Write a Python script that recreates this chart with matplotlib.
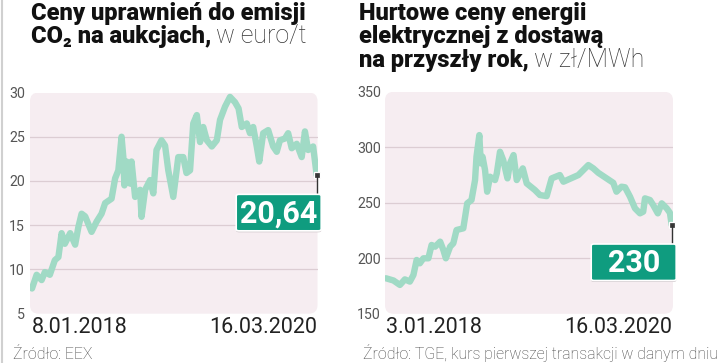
import matplotlib.pyplot as plt
from matplotlib.patches import FancyBboxPatch
from matplotlib.lines import Line2D

W, H = 721, 363

# CO2 allowance auction prices, EUR/t (days since 8.01.2018)
co2_day = [0, 13, 27, 36, 50, 64, 74, 83, 92, 107, 121, 130, 139, 149, 167, 181,
           195, 205, 223, 233, 242, 251, 256, 259, 265, 275, 279, 289, 303, 307,
           317, 331, 340, 349, 363, 373, 382, 396, 410, 424, 433, 443, 452, 462,
           471, 480, 490, 504, 518, 527, 541, 555, 569, 579, 588, 602, 611, 620,
           630, 637, 648, 662, 676, 686, 695, 709, 718, 728, 742, 756, 765, 774,
           788, 798]
co2_val = [7.85, 9.4, 8.8, 9.7, 9.4, 11.05, 11.4, 14.1, 12.9, 14.1, 12.8, 14.8,
           16.3, 16.0, 14.25, 15.4, 16.3, 17.5, 18.0, 20.3, 21.2, 25.0, 22.7, 19.5,
           22.2, 19.7, 22.2, 18.2, 19.0, 15.95, 19.0, 20.1, 18.6, 23.5, 24.6, 24.0,
           21.2, 18.2, 22.7, 22.7, 20.9, 21.2, 26.5, 27.45, 24.4, 26.1, 24.6, 23.9,
           24.6, 26.9, 28.4, 29.5, 28.9, 28.2, 26.1, 26.5, 25.4, 26.1, 23.9, 22.2,
           25.4, 25.75, 23.9, 23.3, 24.6, 24.8, 25.4, 23.7, 24.2, 22.7, 25.6, 23.5,
           23.9, 20.64]
co2_last = "20,64"
co2_dates = ["8.01.2018", "16.03.2020"]
co2_yticks = [5, 10, 15, 20, 25, 30]

# Wholesale power, next-year delivery, PLN/MWh (days since 3.01.2018)
pwr_day = [0, 21, 39, 53, 67, 77, 86, 95, 105, 119, 128, 138, 152, 161, 168, 180,
           189, 198, 217, 228, 240, 250, 254, 262, 266, 271, 278, 284, 292, 306,
           311, 320, 329, 341, 348, 358, 367, 384, 395, 418, 432, 451, 465, 488,
           498, 512, 526, 540, 554, 568, 582, 596, 610, 624, 638, 647, 661, 671,
           685, 699, 713, 722, 727, 741, 750, 763, 774, 788, 797, 802]
pwr_val = [182, 180, 176, 181, 179, 185, 198.5, 195.5, 200, 200, 212, 210.5, 215,
           207.5, 200, 210.5, 213.5, 225.5, 227, 249.5, 252.5, 270.5, 291.5, 311,
           285.5, 291.5, 279.5, 260, 273.5, 270.5, 276.5, 296, 288.5, 272, 285.5,
           293, 270.5, 281, 267.5, 261.5, 257, 256, 272, 275, 269, 271, 273, 275,
           279.5, 284, 281, 277, 274, 271, 268, 260, 264.5, 264, 255.5, 245, 240.5,
           242, 254, 252.5, 248, 240.5, 249.5, 245, 241, 230]
pwr_last = "230"
pwr_dates = ["3.01.2018", "16.03.2020"]
pwr_yticks = [150, 200, 250, 300, 350]

plt.rcParams['font.family'] = ['Roboto', 'DejaVu Sans']

LINE = '#a0dac5'
BG = '#f6edf1'
GRID = '#dccdd3'
BOX = '#0f9c7f'

fig = plt.figure(figsize=(W / 100, H / 100), dpi=100)
renderer = fig.canvas.get_renderer()


def fy(y):
    return 1 - y / H


def panel(x0, x1, xdata0, xdata1, ytop, ybot, days, vals, yticks, last, dates, tpad):
    ax = fig.add_axes([x0 / W, 1 - ybot / H, (x1 - x0) / W, (ybot - ytop) / H])
    k = (xdata1 - xdata0) / (days[-1] - days[0])
    ax.set_xlim(days[0] - (xdata0 - x0) / k, days[-1] + (x1 - xdata1) / k)
    ax.set_ylim(yticks[0], yticks[-1])
    ax.patch.set_visible(False)
    for s in ax.spines.values():
        s.set_visible(False)
    bg = FancyBboxPatch((0, 0), 1, 1, boxstyle='round,pad=0,rounding_size=0.03',
                        mutation_aspect=(x1 - x0) / (ybot - ytop),
                        transform=ax.transAxes, fc=BG, ec='none', zorder=0)
    ax.add_patch(bg)
    for v in yticks[1:-1]:
        ax.axhline(v, color=GRID, lw=0.9, zorder=1)
    ax.plot(days, vals, color=LINE, lw=4.6, solid_joinstyle='round',
            solid_capstyle='round', zorder=3)
    ax.set_xticks([])
    ax.set_yticks(yticks)
    ax.tick_params(axis='y', length=0, pad=tpad, labelsize=10.2, labelcolor='#555555')

    # end marker, connector and value box (in pixels)
    mx, my = ax.transData.transform((days[-1], vals[-1]))
    my_px = H - my
    bx1 = mx + 4.5
    bx0 = bx1 - 85
    by0 = my_px + 19
    by1 = by0 + 36.5
    fig.add_artist(Line2D([mx / W, mx / W], [fy(my_px), fy(by0)], color='#333333', lw=1, zorder=4))
    shadow = FancyBboxPatch((bx0 / W, fy(by1 + 1.5)), (bx1 - bx0) / W, (by1 - by0) / H,
                            boxstyle='round,pad=0,rounding_size=0.004', transform=fig.transFigure,
                            fc='#cfc6ca', ec='none', zorder=4)
    fig.add_artist(shadow)
    box = FancyBboxPatch((bx0 / W, fy(by1)), (bx1 - bx0) / W, (by1 - by0) / H,
                         boxstyle='round,pad=0,rounding_size=0.004', transform=fig.transFigure,
                         fc=BOX, ec='white', lw=1.2, zorder=5)
    fig.add_artist(box)
    fig.text((bx0 + bx1) / 2 / W, fy((by0 + by1) / 2 + 0.5), last, color='white',
             fontsize=22, fontweight='bold', ha='center', va='center', zorder=6)
    ax.plot(days[-1], vals[-1], marker='s', ms=4.5, mfc='#3a3a3a', mec='white',
            mew=0.9, zorder=7, clip_on=False)

    fig.text(xdata0 / W, fy(333), dates[0], fontsize=15.5, color='#222222', ha='left', va='baseline')
    fig.text(xdata1 / W, fy(333), dates[1], fontsize=15.5, color='#222222', ha='right', va='baseline')
    return ax


def title(x, lines, unit):
    base = 20
    t = None
    for i, ln in enumerate(lines):
        t = fig.text(x / W, fy(base + i * 23.3), ln, fontsize=17, fontweight='heavy',
                     color='#111111', ha='left', va='baseline')
    bb = t.get_window_extent(renderer)
    fig.text((bb.x1 + 5) / W, fy(base + (len(lines) - 1) * 23.3), unit, fontsize=18,
             fontweight='light', color='#333333', ha='left', va='baseline')


panel(30, 317.5, 32, 316.7, 92.5, 313.7, co2_day, co2_val, co2_yticks, co2_last, co2_dates, 3.6)
panel(385, 673, 386, 671.7, 91.8, 313.8, pwr_day, pwr_val, pwr_yticks, pwr_last, pwr_dates, 3.0)

title(31, ["Ceny uprawnień do emisji", "CO₂ na aukcjach,"], "w euro/t")
title(359, ["Hurtowe ceny energii", "elektrycznej z dostawą", "na przyszły rok,"], "w zł/MWh")

fig.text(13 / W, fy(359), "Źródło: EEX", fontsize=11.4, fontweight='light', color='#444444',
         ha='left', va='baseline')
fig.text(363 / W, fy(359), "Źródło: TGE, kurs pierwszej transakcji w danym dniu", fontsize=11.4,
         fontweight='light', color='#444444', ha='left', va='baseline')

fig.add_artist(Line2D([2 / W, 2 / W], [0, 1], color='#d0d0d0', lw=1.5))

fig.savefig('out.png', dpi=100)
